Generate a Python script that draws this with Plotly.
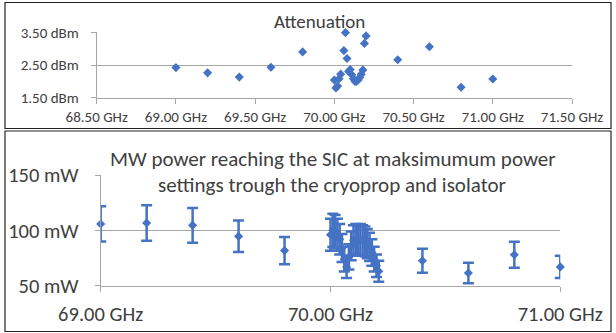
import plotly.graph_objects as go

# ---------------- data ----------------
att_freq = [69.00, 69.20, 69.40, 69.60, 69.80,
            70.00, 70.01, 70.02, 70.03, 70.04, 70.06, 70.07, 70.08, 70.09, 70.10,
            70.11, 70.12, 70.13, 70.14, 70.15, 70.16, 70.17, 70.18, 70.19, 70.20,
            70.40, 70.60, 70.80, 71.00]
att_dbm = [2.42, 2.26, 2.13, 2.43, 2.90,
           2.04, 1.80, 1.86, 2.08, 2.22, 2.94, 3.49, 2.70, 2.30, 2.36,
           2.20, 2.08, 2.00, 2.00, 2.04, 2.12, 2.22, 2.35, 3.16, 3.39,
           2.66, 3.06, 1.82, 2.07]

pow_freq = [69.00, 69.20, 69.40, 69.60, 69.80,
            70.00, 70.01, 70.02, 70.03, 70.04, 70.05, 70.06, 70.07, 70.08, 70.09, 70.10,
            70.11, 70.12, 70.13, 70.14, 70.15, 70.16, 70.17, 70.18, 70.19, 70.20, 70.21,
            70.40, 70.60, 70.80, 71.00]
pow_mw = [105.8, 106.7, 104.5, 94.6, 81.7,
          96, 100, 99, 96, 92, 84, 74, 67, 76, 86, 91,
          92, 91, 92, 91, 90, 88, 85, 80, 74, 68, 63,
          72.6, 61.5, 78.0, 67.0]
pow_err_pct = 15

att_xticks = [68.5, 69.0, 69.5, 70.0, 70.5, 71.0, 71.5]
att_xtext = ["68.50 GHz", "69.00 GHz", "69.50 GHz", "70.00 GHz", "70.50 GHz", "71.00 GHz", "71.50 GHz"]
att_yticks = [1.5, 2.5, 3.5]
att_ytext = ["1.50 dBm", "2.50 dBm", "3.50 dBm"]

pow_xticks = [69.0, 70.0, 71.0]
pow_xtext = ["69.00 GHz", "70.00 GHz", "71.00 GHz"]
pow_yticks = [50, 100, 150]
pow_ytext = ["50 mW", "100 mW", "150 mW"]

title_top = "Attenuation"
title_bot_1 = "MW power reaching the SIC at maksimumum power"
title_bot_2 = "settings trough the cryoprop and isolator"

# ---------------- style ----------------
W, H = 616, 333
BLUE = "#4472C4"
GRID = "#a6a6a6"
TXT = "#404040"
FONT = "Carlito, Calibri, Lato, sans-serif"

def px(x):
    return x / W

def py(y):
    return 1 - y / H

fig = go.Figure()

fig.add_trace(go.Scatter(
    x=att_freq, y=att_dbm, mode="markers",
    marker=dict(symbol="diamond", size=7, color=BLUE),
    xaxis="x", yaxis="y", cliponaxis=False, showlegend=False))

fig.add_trace(go.Scatter(
    x=pow_freq, y=pow_mw, mode="markers",
    marker=dict(symbol="diamond", size=7, color=BLUE),
    error_y=dict(type="percent", value=pow_err_pct, color=BLUE, thickness=2.5, width=5.5),
    xaxis="x2", yaxis="y2", cliponaxis=False, showlegend=False))

axis_common = dict(showline=True, linecolor=GRID, linewidth=1, ticks="outside",
                   tickcolor=GRID, ticklen=5, tickwidth=1, zeroline=False,
                   fixedrange=True, automargin=False)

fig.update_layout(
    template="none",
    width=W, height=H, autosize=False,
    margin=dict(l=0, r=0, t=0, b=0, pad=0, autoexpand=False),
    paper_bgcolor="white", plot_bgcolor="white",
    font=dict(family=FONT, color=TXT),
    hovermode=False,
    xaxis=dict(domain=[px(96.7), px(572)], range=[68.5, 71.5],
               tickmode="array", tickvals=att_xticks, ticktext=att_xtext,
               showgrid=False, anchor="y", tickfont=dict(size=15, color=TXT),
               ticklabelstandoff=0, **axis_common),
    yaxis=dict(domain=[py(97.7), py(32.3)], range=[1.5, 3.5],
               tickmode="array", tickvals=att_yticks, ticktext=att_ytext,
               showgrid=True, gridcolor=GRID, gridwidth=1, anchor="x",
               tickfont=dict(size=15, color=TXT), ticklabelstandoff=9, **axis_common),
    xaxis2=dict(domain=[px(100.7), px(560.3)], range=[69, 71],
                tickmode="array", tickvals=pow_xticks, ticktext=pow_xtext,
                showgrid=False, anchor="y2", tickfont=dict(size=20.5, color=TXT),
                ticklabelstandoff=5, **axis_common),
    yaxis2=dict(domain=[py(285.7), py(175)], range=[50, 150],
                tickmode="array", tickvals=pow_yticks, ticktext=pow_ytext,
                showgrid=True, gridcolor=GRID, gridwidth=1, anchor="x2",
                tickfont=dict(size=20.5, color=TXT), ticklabelstandoff=12, **axis_common),
    shapes=[
        dict(type="rect", xref="paper", yref="paper",
             x0=px(5), x1=px(611), y0=py(128.5), y1=py(2.5),
             line=dict(color="#222222", width=1.2), layer="above"),
        dict(type="rect", xref="paper", yref="paper",
             x0=px(5), x1=px(611), y0=py(331.5), y1=py(131),
             line=dict(color="#222222", width=1.2), layer="above"),
    ],
    annotations=[
        dict(text=title_top, xref="paper", yref="paper", x=px(320), y=py(22),
             showarrow=False, xanchor="center", yanchor="middle",
             font=dict(size=19, color=TXT, family=FONT)),
        dict(text=title_bot_1, xref="paper", yref="paper", x=px(332), y=py(159),
             showarrow=False, xanchor="center", yanchor="middle",
             font=dict(size=21, color=TXT, family=FONT)),
        dict(text=title_bot_2, xref="paper", yref="paper", x=px(332), y=py(185),
             showarrow=False, xanchor="center", yanchor="middle",
             font=dict(size=21, color=TXT, family=FONT)),
    ],
)

fig.write_html(
    "out.html",
    config={"displayModeBar": False, "staticPlot": True},
    post_script="document.body.style.margin='0px';document.body.style.overflow='hidden';",
)
